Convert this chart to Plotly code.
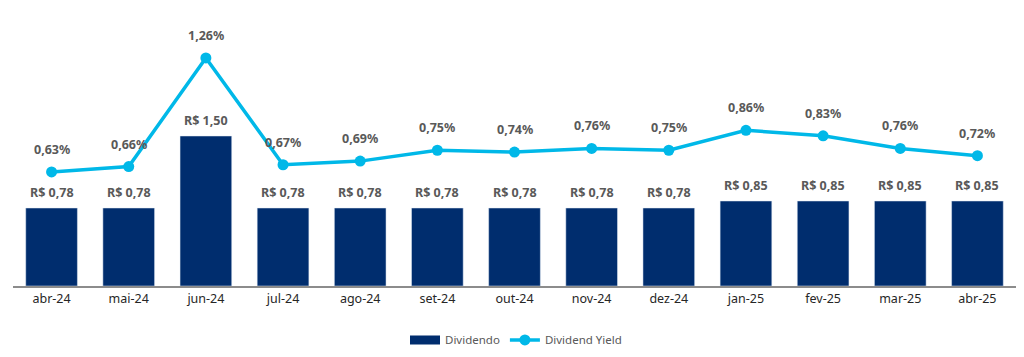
import plotly.graph_objects as go

months = ["abr-24", "mai-24", "jun-24", "jul-24", "ago-24", "set-24", "out-24",
          "nov-24", "dez-24", "jan-25", "fev-25", "mar-25", "abr-25"]
dividendo = [0.78, 0.78, 1.50, 0.78, 0.78, 0.78, 0.78, 0.78, 0.78, 0.85, 0.85, 0.85, 0.85]
dy = [0.63, 0.66, 1.26, 0.67, 0.69, 0.75, 0.74, 0.76, 0.75, 0.86, 0.83, 0.76, 0.72]

BAR = "#002D6E"
LINE = "#00B8E8"
LBL = "#595959"
FONT = "Noto Sans"

fig = go.Figure()
fig.add_trace(go.Bar(x=months, y=dividendo, name="Dividendo", marker_color=BAR,
                     yaxis="y", showlegend=False))
# legend-only entry giving the wide rectangular swatch of the bar series
fig.add_trace(go.Scatter(x=[months[0]], y=[None], name="Dividendo", mode="lines",
                         line=dict(color=BAR, width=9), hoverinfo="skip",
                         legendrank=1))
fig.add_trace(go.Scatter(x=months, y=dy, name="Dividend Yield", mode="lines+markers",
                         line=dict(color=LINE, width=3.5),
                         marker=dict(color=LINE, size=11), yaxis="y2",
                         legendrank=2))

annotations = []
for m, v in zip(months, dividendo):
    annotations.append(dict(x=m, y=v, xref="x", yref="y", yanchor="bottom",
                            yshift=5, showarrow=False,
                            text=("R$ %.2f" % v).replace(".", ","),
                            font=dict(family=FONT, size=12.5, color=LBL, weight="bold")))
for m, v in zip(months, dy):
    annotations.append(dict(x=m, y=v, xref="x", yref="y2", yanchor="bottom",
                            yshift=12, showarrow=False,
                            text=("%.2f%%" % v).replace(".", ","),
                            font=dict(family=FONT, size=12.5, color=LBL, weight="bold")))

# page body has an 8px margin, so the figure is sized to the remaining area
fig.update_layout(
    width=1016, height=349, autosize=False,
    margin=dict(l=5, r=8, t=2, b=71, pad=0, autoexpand=False),
    plot_bgcolor="white", paper_bgcolor="white",
    bargap=0.33,
    font=dict(family=FONT, size=12, color="#262626"),
    xaxis=dict(type="category", categoryorder="array", categoryarray=months,
               showline=True, linecolor="#8C8C8C", linewidth=1.5, ticks="",
               tickfont=dict(size=12.5, color="#262626"), showgrid=False,
               automargin=False, range=[-0.5, len(months) - 0.5], domain=[0, 1]),
    yaxis=dict(range=[0, 2.76], visible=False, showgrid=False, automargin=False),
    yaxis2=dict(range=[0, 1.525], overlaying="y", visible=False, showgrid=False,
                automargin=False),
    legend=dict(orientation="h", x=0.5, xanchor="center", xref="container",
                y=0.049, yanchor="middle", yref="container",
                font=dict(size=11.5, color=LBL), itemwidth=30),
    annotations=annotations,
    showlegend=True,
)

fig.write_html("out.html")
